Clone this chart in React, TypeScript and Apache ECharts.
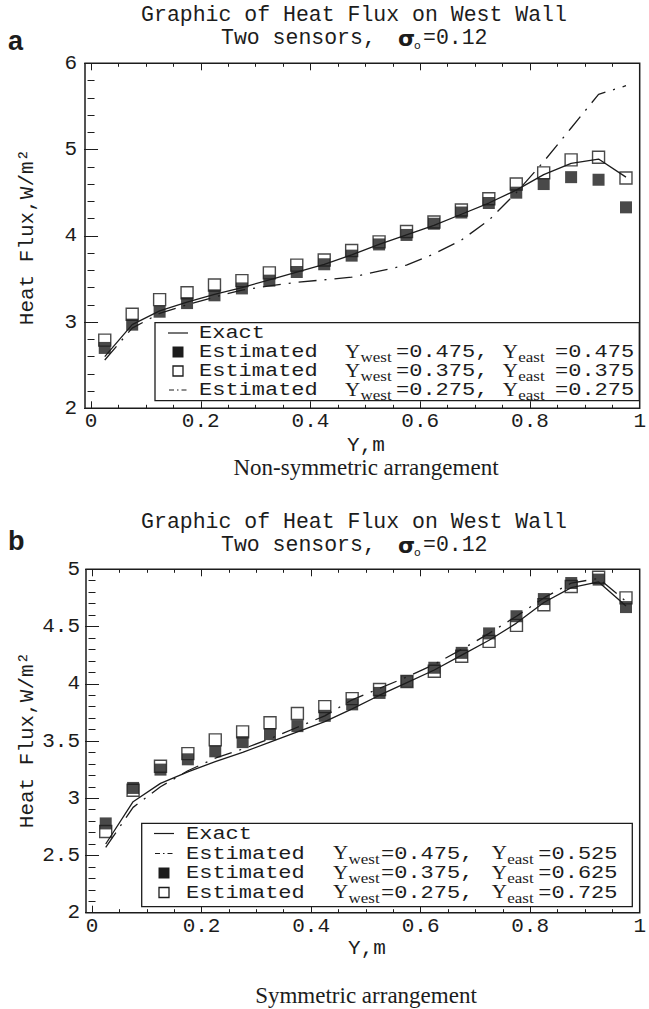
import React, { useEffect, useRef } from "react";
import * as echarts from "echarts";

// ---------- data ----------
const sensorY = [0.025, 0.075, 0.125, 0.175, 0.225, 0.275, 0.325, 0.375, 0.425, 0.475, 0.525, 0.575, 0.625, 0.675, 0.725, 0.775, 0.825, 0.875, 0.925, 0.975];
const exactFlux = [2.6, 2.97, 3.13, 3.23, 3.32, 3.4, 3.49, 3.58, 3.67, 3.78, 3.9, 4.01, 4.12, 4.25, 4.38, 4.53, 4.71, 4.84, 4.89, 4.68];

// panel a (non-symmetric)
const aFilled475 = [2.7, 2.97, 3.12, 3.22, 3.31, 3.39, 3.48, 3.58, 3.67, 3.77, 3.9, 4.01, 4.14, 4.27, 4.38, 4.5, 4.6, 4.68, 4.65, 4.33];
const aEmpty375 = [2.79, 3.09, 3.26, 3.34, 3.43, 3.48, 3.57, 3.66, 3.72, 3.83, 3.93, 4.05, 4.16, 4.3, 4.43, 4.6, 4.73, 4.88, 4.91, 4.67];
const aDashDot275 = [2.56, 2.93, 3.1, 3.2, 3.29, 3.37, 3.42, 3.46, 3.49, 3.52, 3.59, 3.66, 3.79, 3.95, 4.18, 4.5, 4.86, 5.25, 5.64, 5.74];

// panel b (symmetric)
const bDashDot475 = [2.57, 2.92, 3.1, 3.24, 3.35, 3.43, 3.52, 3.62, 3.72, 3.86, 3.96, 4.06, 4.17, 4.3, 4.44, 4.59, 4.75, 4.88, 4.92, 4.72];
const bFilled375 = [2.78, 3.09, 3.25, 3.34, 3.41, 3.49, 3.56, 3.63, 3.72, 3.82, 3.92, 4.02, 4.14, 4.27, 4.44, 4.59, 4.74, 4.88, 4.91, 4.67];
const bEmpty275 = [2.71, 3.07, 3.28, 3.39, 3.51, 3.58, 3.66, 3.74, 3.8, 3.87, 3.95, 4.02, 4.11, 4.24, 4.37, 4.51, 4.69, 4.85, 4.93, 4.75];

const xMajorTicks = [0, 0.2, 0.4, 0.6, 0.8, 1];
const xMinorTicks = [0.05, 0.1, 0.15, 0.25, 0.3, 0.35, 0.45, 0.5, 0.55, 0.65, 0.7, 0.75, 0.85, 0.9, 0.95];

const titleLine1 = "Graphic of Heat Flux on West Wall";
const yAxisTitle = "Heat Flux,W/m²";
const xAxisTitle = "Y,m";
const captionA = "Non-symmetric arrangement";
const captionB = "Symmetric arrangement";

const legendA = [
  { kind: "line", label: "Exact" },
  { kind: "filled", label: "Estimated", west: "=0.475,", east: "=0.475" },
  { kind: "empty", label: "Estimated", west: "=0.375,", east: "=0.375" },
  { kind: "dashdot", label: "Estimated", west: "=0.275,", east: "=0.275" },
];
const legendB = [
  { kind: "line", label: "Exact" },
  { kind: "dashdot", label: "Estimated", west: "=0.475,", east: "=0.525" },
  { kind: "filled", label: "Estimated", west: "=0.375,", east: "=0.625" },
  { kind: "empty", label: "Estimated", west: "=0.275,", east: "=0.725" },
];

// ---------- styling ----------
const MONO = "'Liberation Mono', 'Courier New', monospace";
const SERIF = "'Liberation Serif', 'Times New Roman', serif";
const SANS = "'Liberation Sans', Arial, sans-serif";
const INK = "#1c1c1c";
const DASHDOT = [18, 8, 2, 8];

const pair = (ys: number[]) => sensorY.map((x, i) => [x, ys[i]]);

function txt(text: string, x: number, y: number, o: any = {}) {
  const align = o.align || "left";
  const va = o.va || "middle";
  const size = o.size || 21;
  return {
    type: "text",
    x,
    y,
    rotation: o.rotation || 0,
    scaleY: o.sy || 1,
    silent: true,
    z: 100,
    style: {
      text,
      fill: o.color || INK,
      fontSize: size,
      fontFamily: o.family || MONO,
      fontWeight: o.weight || "normal",
      lineHeight: o.lh || size,
      align,
      verticalAlign: va,
      textAlign: align,
      textVerticalAlign: va,
    },
  };
}

function legendGraphics(items: any[], box: any, rows: number[], cols: any) {
  const els: any[] = [];
  els.push({
    type: "rect",
    silent: true,
    z: 90,
    shape: { x: box.x, y: box.y, width: box.w, height: box.h },
    style: { fill: "#fff", stroke: INK, lineWidth: 1.3 },
  });
  const SY = 0.85;
  items.forEach((it, i) => {
    const y = rows[i];
    const sx = cols.sym;
    if (it.kind === "line") {
      els.push({ type: "line", silent: true, z: 100, shape: { x1: sx - 10, y1: y, x2: sx + 10, y2: y }, style: { stroke: INK, lineWidth: 1.2 } });
    } else if (it.kind === "dashdot") {
      els.push({ type: "line", silent: true, z: 100, shape: { x1: sx - 9, y1: y, x2: sx + 9, y2: y }, style: { stroke: INK, lineWidth: 1.2, lineDash: [5, 3, 1.5, 3] } });
    } else if (it.kind === "filled") {
      els.push({ type: "rect", silent: true, z: 100, shape: { x: sx - 5.5, y: y - 5.5, width: 11, height: 11 }, style: { fill: INK } });
    } else {
      els.push({ type: "rect", silent: true, z: 100, shape: { x: sx - 5, y: y - 5, width: 10, height: 10 }, style: { fill: "#fff", stroke: INK, lineWidth: 1.3 } });
    }
    els.push(txt(it.label, cols.text, y, { size: 22, sy: SY }));
    if (it.west) {
      els.push(txt("Y", cols.y1, y, { size: 21, family: SERIF, sy: SY }));
      els.push(txt("west", cols.y1 + 15.5, y + 5, { size: 17, family: SERIF, sy: SY }));
      els.push(txt(it.west, cols.eq1, y, { size: 22, sy: SY }));
      els.push(txt("Y", cols.y2, y, { size: 21, family: SERIF, sy: SY }));
      els.push(txt("east", cols.y2 + 15.5, y + 5, { size: 17, family: SERIF, sy: SY }));
      els.push(txt(it.east, cols.eq2, y, { size: 22, sy: SY }));
    }
  });
  return els;
}

function xAxesFor(gridIndex: number) {
  const base = {
    type: "value",
    gridIndex,
    min: -0.011,
    max: 1,
    axisLine: { show: false },
    splitLine: { show: false },
  };
  const tickStyle = { color: INK, width: 1 };
  return [
    {
      ...base,
      position: "bottom",
      axisTick: { show: true, inside: true, length: 7, customValues: xMajorTicks, lineStyle: tickStyle },
      axisLabel: {
        show: true,
        customValues: xMajorTicks,
        fontFamily: MONO,
        fontSize: 21,
        color: INK,
        margin: 3,
        formatter: (v: number) => String(v),
      },
    },
    {
      ...base,
      position: "bottom",
      axisTick: { show: true, inside: true, length: 3.5, customValues: xMinorTicks, lineStyle: tickStyle },
      axisLabel: { show: false },
    },
    {
      ...base,
      position: "top",
      axisTick: { show: true, inside: true, length: 7, customValues: xMajorTicks, lineStyle: tickStyle },
      axisLabel: { show: false },
    },
    {
      ...base,
      position: "top",
      axisTick: { show: true, inside: true, length: 3.5, customValues: xMinorTicks, lineStyle: tickStyle },
      axisLabel: { show: false },
    },
  ];
}

function yAxesFor(gridIndex: number, min: number, max: number, interval: number, minorSplit: number, labelMargin: number) {
  const base = {
    type: "value",
    gridIndex,
    min,
    max,
    interval,
    axisLine: { show: false },
    splitLine: { show: false },
    axisTick: { show: true, inside: true, length: 7, lineStyle: { color: INK, width: 1 } },
    minorTick: { show: true, splitNumber: minorSplit, length: 3.5, lineStyle: { color: INK, width: 1 } },
  };
  return [
    {
      ...base,
      position: "left",
      axisLabel: { show: true, fontFamily: MONO, fontSize: 21, color: INK, margin: labelMargin, formatter: (v: number) => String(v) },
    },
    { ...base, position: "right", axisLabel: { show: false } },
  ];
}

export default function App() {
  const ref = useRef<HTMLDivElement>(null);
  useEffect(() => {
    if (!ref.current) return;
    const chart = echarts.init(ref.current, undefined, { renderer: "svg" });

    const gridStyle = { show: true, borderColor: INK, borderWidth: 1.5, backgroundColor: "transparent" };

    const seriesFor = (xi: number, yi: number, list: any[]) =>
      list.map((s) => {
        if (s.kind === "filled" || s.kind === "empty") {
          return {
            type: "scatter",
            xAxisIndex: xi,
            yAxisIndex: yi,
            symbol: "rect",
            symbolSize: 12,
            z: s.kind === "filled" ? 4 : 3,
            itemStyle:
              s.kind === "filled"
                ? { color: INK, borderColor: INK, borderWidth: 0 }
                : { color: "#fff", borderColor: INK, borderWidth: 1.4 },
            data: pair(s.data),
          };
        }
        return {
          type: "line",
          xAxisIndex: xi,
          yAxisIndex: yi,
          symbol: "none",
          showSymbol: false,
          z: 5,
          lineStyle: { color: INK, width: 1.3, type: s.kind === "dashdot" ? DASHDOT : "solid" },
          data: pair(s.data),
        };
      });

    const SIG = "'DejaVu Sans', sans-serif";
    const graphics: any[] = [
      // panel a
      txt("a", 8, 41, { size: 27, family: SANS, weight: "bold" }),
      txt(titleLine1, 354, 15, { align: "center", size: 21.5, lh: 18 }),
      txt("Two sensors,", 221, 38, { size: 21.5, lh: 18 }),
      txt("σ", 398, 38.5, { size: 22, family: SIG, weight: "bold", lh: 18 }),
      txt("o", 414, 45, { size: 11, family: SIG, lh: 9 }),
      txt("=0.12", 423, 38, { size: 21.5, lh: 18 }),
      txt(yAxisTitle, 27, 237, { align: "center", rotation: Math.PI / 2, size: 21 }),
      txt(xAxisTitle, 366, 445, { align: "center", size: 21, lh: 18 }),
      txt(captionA, 366, 467, { align: "center", size: 23, family: SERIF, lh: 20 }),
      // panel b
      txt("b", 8, 541, { size: 27, family: SANS, weight: "bold" }),
      txt(titleLine1, 354, 522, { align: "center", size: 21.5, lh: 18 }),
      txt("Two sensors,", 221, 545, { size: 21.5, lh: 18 }),
      txt("σ", 398, 545.5, { size: 22, family: SIG, weight: "bold", lh: 18 }),
      txt("o", 414, 552, { size: 11, family: SIG, lh: 9 }),
      txt("=0.12", 423, 545, { size: 21.5, lh: 18 }),
      txt(yAxisTitle, 27, 740, { align: "center", rotation: Math.PI / 2, size: 21 }),
      txt(xAxisTitle, 367, 948, { align: "center", size: 21, lh: 18 }),
      txt(captionB, 366, 995, { align: "center", size: 23, family: SERIF, lh: 20 }),
      ...legendGraphics(
        legendA,
        { x: 155, y: 322.7, w: 484.3, h: 78 },
        [333, 352, 371, 390],
        { sym: 178, text: 199, y1: 345, eq1: 396, y2: 502.7, eq2: 555 }
      ),
      ...legendGraphics(
        legendB,
        { x: 141.7, y: 823.3, w: 490.6, h: 83.4 },
        [833.5, 853.5, 873, 892.5],
        { sym: 164, text: 186, y1: 333, eq1: 381, y2: 491.7, eq2: 538.3 }
      ),
    ];

    const option: any = {
      animation: false,
      backgroundColor: "#fff",
      grid: [
        { left: 85, top: 63.3, width: 560, height: 345, ...gridStyle },
        { left: 86, top: 569.3, width: 559, height: 343.4, ...gridStyle },
      ],
      xAxis: [...xAxesFor(0), ...xAxesFor(1)],
      yAxis: [...yAxesFor(0, 2, 6, 1, 5, 8), ...yAxesFor(1, 2, 5, 0.5, 5, 6)],
      series: [
        ...seriesFor(0, 0, [
          { kind: "empty", data: aEmpty375 },
          { kind: "filled", data: aFilled475 },
          { kind: "line", data: exactFlux },
          { kind: "dashdot", data: aDashDot275 },
        ]),
        ...seriesFor(4, 2, [
          { kind: "empty", data: bEmpty275 },
          { kind: "filled", data: bFilled375 },
          { kind: "line", data: exactFlux },
          { kind: "dashdot", data: bDashDot475 },
        ]),
      ],
      graphic: graphics,
    };
    chart.setOption(option);
    return () => chart.dispose();
  }, []);

  return (
    <div
      ref={ref}
      style={{ position: "absolute", left: 0, top: 0, width: 649, height: 1009, background: "#fff" }}
    />
  );
}
